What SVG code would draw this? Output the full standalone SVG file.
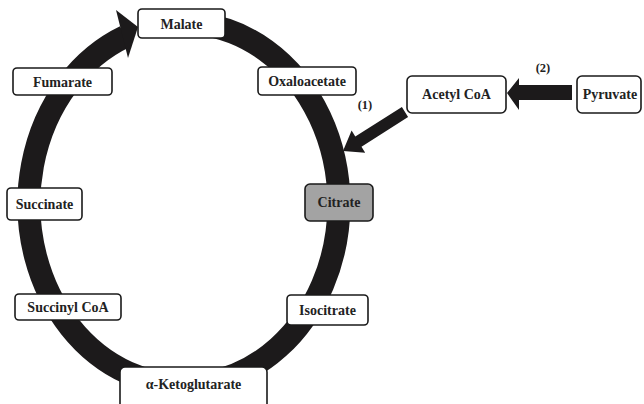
<svg xmlns="http://www.w3.org/2000/svg" width="644" height="404" viewBox="0 0 644 404">
<style>
.box{fill:#fff;stroke:#1a1a1a;stroke-width:1.6}
.gray{fill:#a3a3a3}
.t{font-family:"Liberation Serif","DejaVu Serif",serif;font-weight:bold;font-size:14px;fill:#222;text-anchor:middle}
.lbl{font-family:"Liberation Serif","DejaVu Serif",serif;font-weight:bold;font-size:12.5px;fill:#222;text-anchor:middle}
.ink{fill:#1c1a1b}
</style>
<rect width="644" height="404" fill="#fff"/>
<g id="connectors">
  <path d="M200,24 A155,181 0 1 1 125,36.6" fill="none" stroke="#1c1a1b" stroke-width="23"/>
  <polygon class="ink" points="116,10 138,27 128,58"/>
  <polygon class="ink" points="572,85 519,85 519,78 507,93 519,110 519,100 572,100"/>
  <polygon class="ink" points="408.1,117.1 361.5,146.7 365.2,152.7 343,151 351.6,130.5 355.3,136.5 401.9,106.9"/>
  <text class="lbl" x="543" y="72">(2)</text>
  <text class="lbl" x="365" y="109">(1)</text>
</g>
<g id="malate"><rect class="box" x="138" y="9" width="87" height="29" rx="4"/><text class="t" x="181.5" y="28.5">Malate</text></g>
<g id="oxaloacetate"><rect class="box" x="258" y="67" width="98" height="28" rx="4"/><text class="t" x="307" y="86">Oxaloacetate</text></g>
<g id="fumarate"><rect class="box" x="13" y="68" width="99" height="27" rx="4"/><text class="t" x="62.5" y="86.5">Fumarate</text></g>
<g id="citrate"><rect class="box gray" x="305" y="184" width="68" height="37" rx="5"/><text class="t" x="339" y="207">Citrate</text></g>
<g id="succinate"><rect class="box" x="7" y="188" width="75" height="32" rx="4"/><text class="t" x="44.5" y="209">Succinate</text></g>
<g id="isocitrate"><rect class="box" x="287" y="295" width="81" height="30" rx="4"/><text class="t" x="327.5" y="315">Isocitrate</text></g>
<g id="succinylcoa"><rect class="box" x="15" y="294" width="106" height="26" rx="4"/><text class="t" x="68" y="312">Succinyl CoA</text></g>
<g id="ketoglutarate"><rect class="box" x="120" y="367" width="147" height="45" rx="5"/><text class="t" x="193.5" y="389">α-Ketoglutarate</text></g>
<g id="acetylcoa"><rect class="box" x="407" y="76" width="99" height="37" rx="5"/><text class="t" x="456.5" y="99">Acetyl CoA</text></g>
<g id="pyruvate"><rect class="box" x="577" y="76" width="64" height="37" rx="5"/><text class="t" x="610" y="99">Pyruvate</text></g>
</svg>
